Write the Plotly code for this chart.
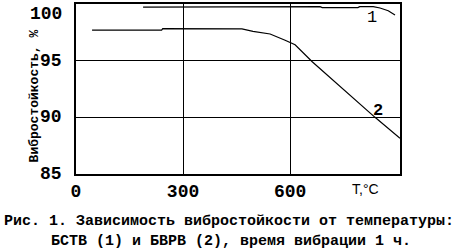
import plotly.graph_objects as go

# Data
t1 = [188, 684, 690, 790, 795, 833, 852, 875, 894]
v1 = [99.73, 99.77, 99.68, 99.68, 99.77, 99.77, 99.65, 99.4, 99.02]

t2 = [45, 240, 243, 465, 496, 544, 586, 614, 662, 838, 908]
v2 = [97.7, 97.7, 97.83, 97.8, 97.58, 97.35, 96.8, 96.4, 94.9, 90.0, 88.15]

x_ticks = [0, 300, 600]
x_tick_text = ["0", "300", "600"]
y_ticks = [85, 90, 95, 100]
y_tick_text = ["85", "90", "95", "100"]

curve_labels = ["1", "2"]
label_t = [830, 847]
label_v = [98.78, 90.6]

x_title = "T,°C"
y_title = "Вибростойкость, %"
caption1 = "Рис. 1. Зависимость вибростойкости от температуры:"
caption2 = "БСТВ (1) и БВРВ (2), время вибрации 1 ч."

MONO = "Liberation Mono, DejaVu Sans Mono, monospace"

fig = go.Figure()
fig.add_trace(go.Scatter(x=t1, y=v1, mode="lines",
                         line=dict(color="black", width=1.2), showlegend=False))
fig.add_trace(go.Scatter(x=t2, y=v2, mode="lines",
                         line=dict(color="black", width=1.2), showlegend=False))

W, H = 462, 251
L, R, T, B = 76, 62, 2, 77

fig.update_layout(
    width=W, height=H,
    margin=dict(l=L, r=R, t=T, b=B, pad=0),
    paper_bgcolor="white", plot_bgcolor="white",
    xaxis=dict(range=[0, 908], tickvals=x_ticks, ticktext=x_tick_text,
               showgrid=True, gridcolor="black", gridwidth=1.4,
               showline=True, mirror=True, linecolor="black", linewidth=1.5,
               zeroline=False, ticks="", ticklabelstandoff=0,
               tickfont=dict(family=MONO, size=18, color="black", weight="bold")),
    yaxis=dict(range=[85, 100], tickvals=[90, 95], showticklabels=False,
               showgrid=True, gridcolor="black", gridwidth=1.4,
               showline=True, mirror=True, linecolor="black", linewidth=1.5,
               zeroline=False, ticks=""),
)

ann = []
for v, s in zip(y_ticks, y_tick_text):
    ann.append(dict(xref="paper", yref="y", x=0, y=v, text=s, showarrow=False,
                    xanchor="right", yanchor="top" if v == 100 else "middle",
                    xshift=-12, yshift=2 if v == 100 else 0,
                    font=dict(family=MONO, size=18, color="black", weight="bold")))
for s, tx, vy in zip(curve_labels, label_t, label_v):
    ann.append(dict(xref="x", yref="y", x=tx, y=vy, text=s, showarrow=False,
                    font=dict(family=MONO, size=17, color="black",
                              weight="bold" if s == "2" else "normal")))
ann.append(dict(xref="paper", yref="paper", x=(381 - L) / 324, y=0, yshift=-15,
                text=x_title, showarrow=False, yanchor="middle",
                font=dict(family="Liberation Sans Narrow, Liberation Sans, sans-serif",
                          size=14, color="black")))
ann.append(dict(xref="paper", yref="paper", x=(25 - L) / 324, y=(174 - 95) / 172,
                text=y_title, showarrow=False, textangle=-90,
                font=dict(family=MONO, size=13, color="black", weight="bold")))
ann.append(dict(xref="paper", yref="paper", x=(229 - L) / 324, y=0, yshift=-47,
                text=caption1, showarrow=False, yanchor="middle",
                font=dict(family=MONO, size=15, color="black", weight="bold")))
ann.append(dict(xref="paper", yref="paper", x=(231 - L) / 324, y=0, yshift=-67,
                text=caption2, showarrow=False, yanchor="middle",
                font=dict(family=MONO, size=15, color="black", weight="bold")))
fig.update_layout(annotations=ann)

fig.write_html("out.html")
